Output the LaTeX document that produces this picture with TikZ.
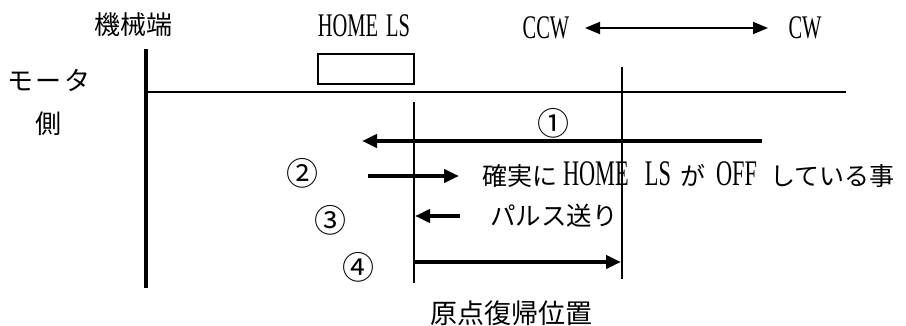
\documentclass[tikz,border=0pt]{standalone}
\usepackage{fontspec}
\setmainfont{Liberation Serif}[FakeStretch=0.62]
\newfontfamily\cjk{Noto Sans CJK JP}
\usetikzlibrary{arrows.meta}
\newcommand\latsz{\fontsize{33}{36}\selectfont}
\newcommand\cjksz{\fontsize{26}{30}\selectfont}
\newcommand\midsz{\fontsize{25}{30}\selectfont}
\begin{document}
\begin{tikzpicture}[x=1pt,y=-1pt,
  txt/.style={inner sep=0pt, outer sep=0pt},
  jlab/.style={txt, font=\cjk\cjksz},
  llab/.style={txt, font=\latsz},
  num/.style={txt, font=\cjk\fontsize{32}{34}\selectfont},
  wall/.style={line width=4pt},
  rail/.style={line width=2pt},
  vmark/.style={line width=1.8pt},
  move/.style={line width=4pt, -{Triangle[length=15pt,width=13pt]}},
  dir/.style={line width=2pt, {Triangle[length=15pt,width=12pt]}-{Triangle[length=15pt,width=12pt]}},
  swbox/.style={draw, line width=2pt, inner sep=0pt, minimum width=96pt, minimum height=30pt}
]
\useasboundingbox (0,0) rectangle (906,326);

% labels
\node[jlab] (kikai) at (133,25) {機械端};
\node[llab] (homels) at (364,26) {HOME\hspace{8pt}LS};
\node[llab] (ccw) at (546,28) {CCW};
\node[llab] (cw) at (805,28) {CW};
\node[jlab] (motor) at (49,80) {モ\hspace{3pt}ー\hspace{3pt}タ};
\node[jlab] (side) at (48,124) {側};

% direction arrow
\coordinate (dl) at (585,28);
\coordinate (dr) at (768,28);
\draw[dir] (dl) -- (dr);

% mechanical end wall and rail
\coordinate (wtop) at (146,49);
\coordinate (wbot) at (146,288);
\draw[wall] (wtop) -- (wbot);
\coordinate (rl) at (146,92);
\coordinate (rr) at (846,92);
\draw[rail] (rl) -- (rr);

% HOME LS box
\node[swbox] (lsbox) at (366,69) {};

% vertical marks
\coordinate (vat) at (414,102);
\coordinate (vab) at (414,283);
\draw[vmark] (vat) -- (vab);
\coordinate (vbt) at (622,67);
\coordinate (vbb) at (622,279);
\draw[vmark] (vbt) -- (vbb);

% step 1
\node[num] (n1) at (553,123) {①};
\coordinate (a1s) at (762,141);
\coordinate (a1e) at (362,141);
\draw[move] (a1s) -- (a1e);

% step 2
\node[num] (n2) at (302,173) {②};
\coordinate (a2s) at (368,176);
\coordinate (a2e) at (459,176);
\draw[move] (a2s) -- (a2e);
\node[txt, anchor=west, font=\fontsize{36}{38}\selectfont] (t2) at (482,175)
  {\makebox[81pt][l]{\cjk\midsz 確実に}\makebox[82pt][l]{HOME}\makebox[35pt][l]{LS}\makebox[36pt][l]{\cjk\midsz が}\makebox[54pt][l]{OFF}{\cjk\midsz している事}};

% step 3
\node[num] (n3) at (330,220) {③};
\coordinate (a3s) at (460,216);
\coordinate (a3e) at (415,216);
\draw[move] (a3s) -- (a3e);
\node[txt, anchor=west, font=\cjk\fontsize{25.5}{30}\selectfont] (t3) at (490,216) {パルス送り};

% step 4
\node[num] (n4) at (358,267) {④};
\coordinate (a4s) at (414,262);
\coordinate (a4e) at (621,262);
\draw[move] (a4s) -- (a4e);

% origin label
\node[txt, font=\cjk\fontsize{27}{30}\selectfont] (origin) at (511,313) {原点復帰位置};
\end{tikzpicture}
\end{document}
